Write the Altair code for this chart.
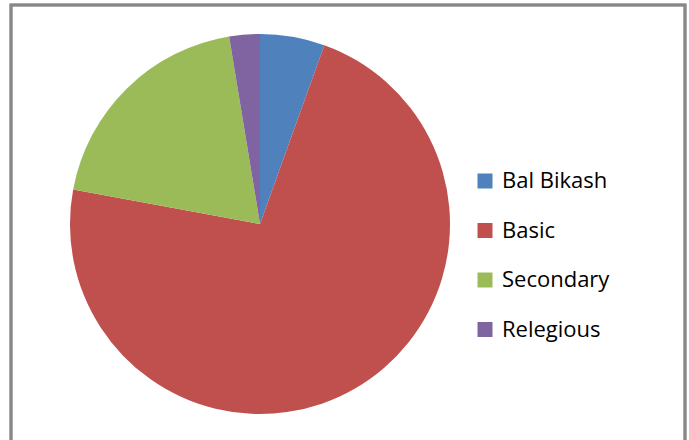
import altair as alt
import pandas as pd

categories = ["Bal Bikash", "Basic", "Secondary", "Relegious"]
values = [5.5, 72.4, 19.5, 2.6]
colors = ["#4F81BD", "#C0504D", "#9BBB59", "#8064A2"]

df = pd.DataFrame({"cat": categories, "val": values, "ord": list(range(len(categories)))})

pie = alt.Chart(df).mark_arc(outerRadius=190, stroke=None).encode(
    theta=alt.Theta("val:Q", stack=True),
    order=alt.Order("ord:Q"),
    color=alt.Color(
        "cat:N",
        sort=categories,
        scale=alt.Scale(domain=categories, range=colors),
        legend=alt.Legend(
            title=None,
            orient="none",
            legendX=474,
            legendY=170,
            symbolType="square",
            symbolSize=225,
            symbolStrokeWidth=0,
            labelFontSize=22,
            labelFont="Open Sans",
            labelColor="#000000",
            labelOffset=6,
            rowPadding=27.5,
            labelLimit=300,
        ),
    ),
    x=alt.value(260),
    y=alt.value(224),
)

border = alt.Chart(df).mark_rect(fill=None, stroke="#878787", strokeWidth=2.5).encode(
    x=alt.value(11), x2=alt.value(685), y=alt.value(5), y2=alt.value(460)
)

chart = alt.layer(border, pie).properties(
    width=689, height=440, padding=0, autosize=alt.AutoSizeParams(type="none")
).configure_view(stroke=None)

chart.save("out.html", embed_options={"renderer": "svg", "actions": False})
